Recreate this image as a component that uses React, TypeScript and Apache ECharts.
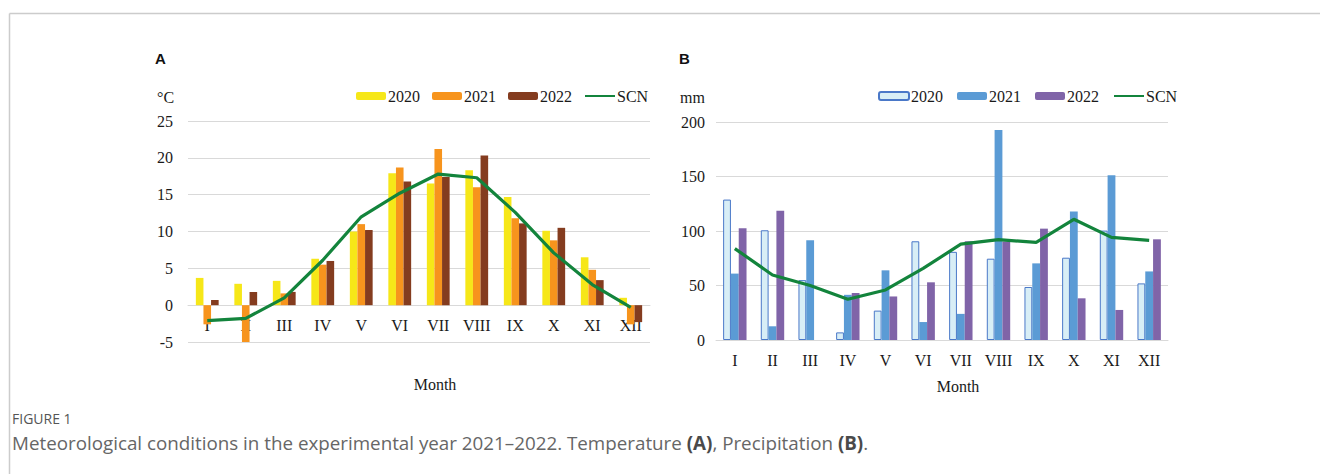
import React, { useEffect, useRef } from "react";
import * as echarts from "echarts";

// Month categories (Roman numerals)
const months = ["I", "II", "III", "IV", "V", "VI", "VII", "VIII", "IX", "X", "XI", "XII"];
const seriesNames = ["2020", "2021", "2022", "SCN"];

// Mean monthly air temperature, °C
const temp2020 = [3.7, 2.9, 3.3, 6.3, 10.0, 17.9, 16.5, 18.3, 14.7, 10.1, 6.5, 1.0];
const temp2021 = [-2.6, -5.0, 1.6, 5.5, 11.0, 18.7, 21.2, 16.0, 11.8, 8.8, 4.8, -2.6];
const temp2022 = [0.7, 1.8, 1.8, 6.0, 10.2, 16.8, 17.4, 20.3, 11.1, 10.5, 3.4, -2.3];
const tempSCN = [-2.1, -1.8, 1.0, 6.1, 12.0, 15.2, 17.8, 17.3, 12.6, 7.1, 2.8, -0.3];

// Monthly precipitation, mm
const prec2020 = [129, 100.8, 55, 7, 27, 90.7, 81, 74.7, 48.7, 75.6, 100.5, 52];
const prec2021 = [61, 12.6, 91.6, 41.5, 64, 16.5, 24, 193, 70.4, 118, 151.3, 63];
const prec2022 = [102.6, 118.8, 0, 43.2, 40, 53, 90.7, 90.5, 102.3, 38.3, 27.6, 92.5];
const precSCN = [84, 59.7, 50, 37.4, 46, 65.8, 88, 92.2, 89.7, 110.9, 94.3, 91.6];

const tempTicks = { min: -5, max: 25, interval: 5 };
const precTicks = { min: 0, max: 200, interval: 50 };

const SERIF = "'Liberation Serif', 'Times New Roman', serif";
const SANS = "'Open Sans', 'Noto Sans', sans-serif";
const GRID_COLOR = "#d9d9d9";
const SCN_COLOR = "#13843c";

export default function App() {
  const ref = useRef<HTMLDivElement>(null);

  useEffect(() => {
    if (!ref.current) return;
    const chart = echarts.init(ref.current, undefined, { renderer: "svg" });

    const axisText = { color: "#1a1a1a", fontFamily: SERIF, fontSize: 16 };
    const gridA = { left: 188, top: 121, width: 462, height: 221 };
    const gridB = { left: 716, top: 122.3, width: 452, height: 217.7 };

    // temperature axis: category labels sit just under the zero line
    const zeroOffsetA = -(gridA.height * (0 - tempTicks.min)) / (tempTicks.max - tempTicks.min);

    const xAxisBase = (gridIndex: number, offset: number) => ({
      type: "category",
      gridIndex,
      data: months,
      offset,
      axisTick: { show: false },
      axisLine: { show: true, onZero: false, lineStyle: { color: GRID_COLOR, width: 1 } },
      axisLabel: { ...axisText, margin: 12, interval: 0 },
    });

    const yAxisBase = (gridIndex: number, ticks: { min: number; max: number; interval: number }, margin: number) => ({
      type: "value",
      gridIndex,
      ...ticks,
      axisLine: { show: false },
      axisTick: { show: false },
      splitLine: { show: true, lineStyle: { color: GRID_COLOR, width: 1 } },
      axisLabel: { ...axisText, margin },
    });

    const hiddenMarker = { color: "rgba(0,0,0,0)", borderColor: "rgba(0,0,0,0)", borderWidth: 0 };

    const legendBase = (left: number, gap: number) => ({
      left,
      top: 88,
      padding: 0,
      itemWidth: 30,
      itemHeight: 8,
      itemGap: gap,
      selectedMode: false,
      textStyle: { ...axisText, padding: [0, 0, 0, -3] },
    });

    const option: any = {
      animation: false,
      backgroundColor: "#ffffff",
      grid: [
        { ...gridA, containLabel: false },
        { ...gridB, containLabel: false },
      ],
      xAxis: [xAxisBase(0, zeroOffsetA), xAxisBase(1, 0)],
      yAxis: [yAxisBase(0, tempTicks, 15), yAxisBase(1, precTicks, 11)],
      legend: [
        {
          ...legendBase(356, 12),
          data: seriesNames.map((n) => (n === "SCN" ? { name: n, itemStyle: hiddenMarker } : { name: n })),
        },
        {
          ...legendBase(878, 14),
          data: seriesNames.map((n) =>
            n === "SCN" ? { name: n + " ", itemStyle: hiddenMarker } : { name: n + " " }
          ),
          formatter: (n: string) => n.trim(),
        },
      ],
      series: [
        // Temperature
        { name: "2020", type: "bar", xAxisIndex: 0, yAxisIndex: 0, data: temp2020, barWidth: 7.6, barGap: "0%", itemStyle: { color: "#f6e718" } },
        { name: "2021", type: "bar", xAxisIndex: 0, yAxisIndex: 0, data: temp2021, barWidth: 7.6, barGap: "0%", itemStyle: { color: "#f7941d" } },
        { name: "2022", type: "bar", xAxisIndex: 0, yAxisIndex: 0, data: temp2022, barWidth: 7.6, barGap: "0%", itemStyle: { color: "#843c1f" } },
        { name: "SCN", type: "line", xAxisIndex: 0, yAxisIndex: 0, data: tempSCN, symbol: "none", lineStyle: { color: SCN_COLOR, width: 3.2 }, itemStyle: { color: SCN_COLOR }, z: 5 },
        // Precipitation
        { name: "2020 ", type: "bar", xAxisIndex: 1, yAxisIndex: 1, data: prec2020, barWidth: 7.8, barGap: "0%", itemStyle: { color: "#d8eef6", borderColor: "#4a78c8", borderWidth: 1 } },
        { name: "2021 ", type: "bar", xAxisIndex: 1, yAxisIndex: 1, data: prec2021, barWidth: 7.8, barGap: "0%", itemStyle: { color: "#5b9bd5" } },
        { name: "2022 ", type: "bar", xAxisIndex: 1, yAxisIndex: 1, data: prec2022, barWidth: 7.8, barGap: "0%", itemStyle: { color: "#8064a8" } },
        { name: "SCN ", type: "line", xAxisIndex: 1, yAxisIndex: 1, data: precSCN, symbol: "none", lineStyle: { color: SCN_COLOR, width: 3.2 }, itemStyle: { color: SCN_COLOR }, z: 5 },
      ],
      graphic: [
        // outer frame
        { type: "line", shape: { x1: 9.5, y1: 13.5, x2: 1320, y2: 13.5 }, style: { stroke: "#cccccc", lineWidth: 1.5 } },
        { type: "line", shape: { x1: 9.5, y1: 13.5, x2: 9.5, y2: 474 }, style: { stroke: "#cccccc", lineWidth: 1.5 } },
        // panel letters
        { type: "text", x: 155, y: 58, style: { text: "A", font: "bold 15px 'Liberation Sans', Arial, sans-serif", fill: "#111", verticalAlign: "middle" } },
        { type: "text", x: 679, y: 58, style: { text: "B", font: "bold 15px 'Liberation Sans', Arial, sans-serif", fill: "#111", verticalAlign: "middle" } },
        // units
        { type: "text", x: 157, y: 97, style: { text: "°C", font: `16px ${SERIF}`, fill: "#1a1a1a", verticalAlign: "middle" } },
        { type: "text", x: 680, y: 97, style: { text: "mm", font: `16px ${SERIF}`, fill: "#1a1a1a", verticalAlign: "middle" } },
        // axis titles
        { type: "text", x: 435, y: 384, style: { text: "Month", font: `16px ${SERIF}`, fill: "#1a1a1a", align: "center", verticalAlign: "middle" } },
        { type: "text", x: 958, y: 386, style: { text: "Month", font: `16px ${SERIF}`, fill: "#1a1a1a", align: "center", verticalAlign: "middle" } },
        // caption
        { type: "text", x: 12, y: 418, style: { text: "FIGURE 1", font: `14px ${SANS}`, fill: "#555", verticalAlign: "middle" } },
        {
          type: "text",
          x: 12,
          y: 443,
          style: {
            text: "{n|Meteorological conditions in the experimental year 2021–2022. Temperature }{b|(A)}{n|, Precipitation }{b|(B)}{n|.}",
            verticalAlign: "middle",
            rich: {
              n: { font: `18.8px ${SANS}`, fill: "#666666" },
              b: { font: `bold 18.8px ${SANS}`, fill: "#4a4a4a" },
            },
          },
        },
      ],
    };

    chart.setOption(option);
    return () => chart.dispose();
  }, []);

  return (
    <div
      ref={ref}
      style={{ position: "absolute", left: 0, top: 0, width: 1320, height: 474, background: "#fff" }}
    />
  );
}
